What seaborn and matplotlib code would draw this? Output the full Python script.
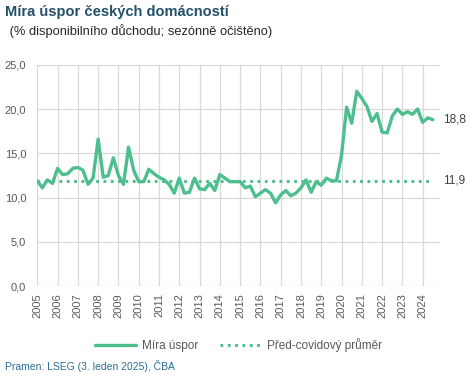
import numpy as np
import pandas as pd
import seaborn as sns
import matplotlib.pyplot as plt

# quarterly household saving rate, 2005Q1 - 2024Q3
years = list(range(2005, 2025))
savings = [
    11.9, 11.1, 12.0, 11.6,   # 2005
    13.3, 12.6, 12.7, 13.3,   # 2006
    13.4, 13.1, 11.5, 12.2,   # 2007
    16.6, 12.3, 12.5, 14.5,   # 2008
    12.5, 11.5, 15.7, 13.1,   # 2009
    11.8, 11.8, 13.2, 12.7,   # 2010
    12.3, 12.0, 11.5, 10.5,   # 2011
    12.2, 10.5, 10.6, 12.2,   # 2012
    11.0, 10.9, 11.6, 10.8,   # 2013
    12.6, 12.2, 11.8, 11.8,   # 2014
    11.8, 11.1, 11.3, 10.1,   # 2015
    10.5, 10.9, 10.5, 9.4,    # 2016
    10.3, 10.8, 10.2, 10.5,   # 2017
    11.1, 12.0, 10.6, 11.8,   # 2018
    11.4, 12.2, 11.9, 11.9,   # 2019
    14.8, 20.2, 18.4, 22.0,   # 2020
    21.2, 20.3, 18.6, 19.5,   # 2021
    17.4, 17.3, 19.2, 20.0,   # 2022
    19.4, 19.7, 19.4, 20.0,   # 2023
    18.5, 19.0, 18.8,         # 2024
]
precovid_avg = 11.9
yticks = [0, 5, 10, 15, 20, 25]

quarters = [y + q / 4 for y in years for q in range(4)][:len(savings)]
df = pd.DataFrame({"x": quarters, "value": savings})
avg = pd.DataFrame({"x": [quarters[0], quarters[-1]], "value": [precovid_avg] * 2})

green = "#4dbf8e"
grid = "#d9d9d9"
tick_col = "#595959"

sns.set_style("white")
plt.rcParams["font.family"] = ["Liberation Sans", "DejaVu Sans"]

fig = plt.figure(figsize=(4.72, 3.81), dpi=100)
ax = fig.add_axes([0.079, 0.249, 0.853, 0.581])

sns.lineplot(data=avg, x="x", y="value", ax=ax, color=green, lw=2.2,
             linestyle=(0, (0.9, 1.5)), label="Před-covidový průměr", zorder=2)
sns.lineplot(data=df, x="x", y="value", ax=ax, color=green, lw=2.4,
             label="Míra úspor", zorder=3)

ax.set_xlim(2005, 2024.85)
ax.set_ylim(0, 25)
ax.set_xticks(years)
ax.set_xticklabels([str(y) for y in years], rotation=90, fontsize=8, color=tick_col)
ax.set_yticks(yticks)
ax.set_yticklabels([f"{v:.1f}".replace(".", ",") for v in yticks], fontsize=8, color=tick_col)
ax.grid(True, color=grid, lw=0.9)
ax.set_axisbelow(True)
for s in ax.spines.values():
    s.set_visible(False)
ax.tick_params(axis="x", length=3, color=grid, width=0.9, pad=2)
ax.tick_params(axis="y", length=0, pad=8)
ax.set_xlabel("")
ax.set_ylabel("")

# end labels
ax.text(2025.0, savings[-1], f"{savings[-1]:.1f}".replace(".", ","), va="center",
        fontsize=8.5, color="#404040", clip_on=False)
ax.text(2025.0, precovid_avg, f"{precovid_avg:.1f}".replace(".", ","), va="center",
        fontsize=8.5, color="#404040", clip_on=False)

h, l = ax.get_legend_handles_labels()
ax.legend(h[::-1], l[::-1], loc="center", bbox_to_anchor=(0.5, -0.265), ncol=2,
          frameon=False, fontsize=8.5, labelcolor=tick_col, handlelength=3.5,
          columnspacing=1.8, handletextpad=0.5)

fig.text(0.011, 0.968, "Míra úspor českých domácností", fontsize=10.5,
         fontweight="bold", color="#23506a", va="center")
fig.text(0.013, 0.918, " (% disponibilního důchodu; sezónně očištěno)", fontsize=9.3,
         color="#262626", va="center")
fig.text(0.011, 0.04, "Pramen: LSEG (3. leden 2025), ČBA", fontsize=7.5,
         color="#2a6f97", va="center")

fig.savefig("out.png", dpi=100)
